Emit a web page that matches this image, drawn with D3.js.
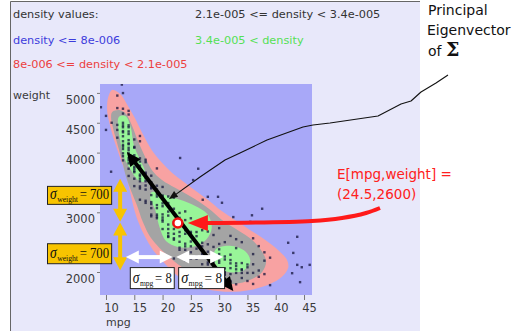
<!DOCTYPE html>
<html>
<head>
<meta charset="utf-8">
<script src="https://cdn.jsdelivr.net/npm/d3@7"></script>
<style>
  body { margin: 0; background: #fff; }
  svg { display: block; font-family: "DejaVu Sans", sans-serif; }
</style>
</head>
<body>
<svg id="chart" width="524" height="331"></svg>
<script>
const WIDTH = 524;
const HEIGHT = 331;
const plot = { left: 100, top: 84, right: 312, bottom: 295 };

// axis ticks (2500 and 3500 sit under the sigma boxes)
const xTicks = [10, 15, 20, 25, 30, 35, 40, 45];
const yTicks = [2000, 3000, 4000, 4500, 5000];

// legend
const legendLabels = [
  'density values:',
  '2.1e-005 <= density < 3.4e-005',
  'density <= 8e-006',
  '3.4e-005 < density',
  '8e-006 <= density < 2.1e-005',
];
const legendColors = ['#333', '#333', '#3c3cdc', '#55e055', '#ec4040'];

// density level outlines, [mpg, weight]
const densityLow = [
  [11.1, 5050], [12.5, 4980], [13.7, 4810], [15.1, 4580], [16.5, 4310], [18.1, 4040],
  [19.9, 3830], [21.7, 3660], [23.6, 3520], [25.7, 3370], [28.0, 3210], [30.2, 3040],
  [32.8, 2870], [35.5, 2700], [38.1, 2540], [40.4, 2370], [42.0, 2200], [42.2, 2070],
  [41.1, 1920], [39.0, 1800], [35.5, 1700], [31.9, 1670], [28.4, 1700], [24.8, 1800],
  [22.2, 1970], [20.1, 2170], [18.3, 2370], [16.9, 2590], [15.7, 2840], [14.8, 3120],
  [14.1, 3410], [13.4, 3680], [12.5, 3910], [11.6, 4160], [10.7, 4460], [10.2, 4710],
  [10.4, 4930],
];
const densityMid = [
  [11.1, 4680], [12.5, 4710], [13.5, 4650], [14.6, 4450], [15.7, 4180], [16.9, 3930],
  [18.1, 3710], [19.9, 3540], [22.2, 3410], [24.5, 3290], [26.6, 3170], [28.7, 3020],
  [30.9, 2840], [33.3, 2700], [35.8, 2540], [37.6, 2340], [38.3, 2170], [37.6, 2000],
  [35.5, 1870], [32.8, 1800], [30.2, 1820], [27.5, 1870], [24.8, 2000], [22.7, 2130],
  [21.0, 2270], [19.5, 2400], [17.8, 2590], [16.5, 2840], [15.5, 3110], [14.4, 3370],
  [13.5, 3610], [12.8, 3880], [11.9, 4180], [11.2, 4430], [10.9, 4580],
];
const densityHighTop = [
  [12.3, 4600], [13.5, 4610], [14.4, 4410], [14.9, 4130], [16.0, 3880], [16.9, 3680],
  [16.7, 3510], [15.7, 3540], [14.2, 3740], [13.0, 3960], [12.5, 4210], [12.1, 4460],
];
const densityHighMid = [
  [18.1, 3340], [20.4, 3290], [23.1, 3210], [25.7, 3110], [27.9, 2970], [28.7, 2740],
  [27.7, 2540], [25.2, 2420], [22.7, 2420], [20.6, 2520], [19.5, 2740], [18.7, 3040],
  [17.8, 3240],
];
const densityHighLow = [
  [29.3, 2370], [31.9, 2440], [34.7, 2340], [35.5, 2170], [34.4, 2030], [31.6, 2000],
  [29.4, 2120],
];

// cars, [mpg, weight]
const cars = [
  [9.1, 4760], [10, 4380], [10, 4615], [12.8, 5140], [10.9, 3680], [10.7, 3410],
  [23.1, 3910], [26.3, 3730], [25.4, 3540], [27.1, 3210], [28.0, 3260], [29.8, 3260],
  [30.5, 3160], [32.5, 2920], [35.8, 2950], [37.6, 3060], [35.5, 2840], [43.8, 2590],
  [42.2, 2490], [43.1, 2320], [43.8, 2120], [44.6, 2080], [46.0, 2120], [42.9, 1980],
  [44.3, 1830], [39.0, 1780],
  [12, 4955], [13, 4997], [12, 4746], [13, 4735], [11, 4500], [12, 4464], [13, 4654],
  [14, 4699], [13, 4499], [14, 4638], [13, 4457], [14, 4457], [12, 4380], [13, 4425],
  [14, 4425], [13, 4360], [14, 4354], [13, 4340], [14, 4312], [13, 4274], [12, 4250],
  [13, 4190], [14, 4209], [15, 4220], [13, 4129], [14, 4154], [15, 4096], [16, 4190],
  [14, 4141], [13, 4100], [14, 4080], [15, 4082], [13, 4060], [14, 4040], [16, 4278],
  [13, 3988], [14, 3988], [15, 3955], [13, 3940], [14, 3907], [15, 3892], [16, 3904],
  [17, 3880], [14, 3870], [13, 3870], [15, 3850], [16, 3850], [14, 3821], [15, 3761],
  [16, 3781], [17, 3840], [14, 3730], [15, 3730], [16, 3735],
  [15, 3693], [16, 3632], [17, 3645], [15, 3672], [18, 3613], [16, 3609], [17, 3664],
  [14, 3609], [15, 3563], [16, 3563], [17, 3570], [18, 3504], [19, 3735], [16, 3520],
  [17, 3520], [18, 3436], [19, 3445], [15, 3439], [16, 3433], [17, 3449], [18, 3410],
  [20, 3425], [19, 3381],
  [16, 3399], [17, 3381], [18, 3399], [19, 3302], [20, 3282], [21, 3265], [18, 3288],
  [17, 3193], [16, 3211], [19, 3264], [20, 3265], [22, 3245], [18, 3171], [20, 3150],
  [21, 3155], [19, 3121], [18, 3139], [20, 3102], [22, 3060], [24, 3015], [17, 3158],
  [19, 3070], [21, 3012], [18, 3070], [23, 2990], [20, 2965], [19, 2962], [18, 2962],
  [20, 2914], [19, 2930], [18, 2933], [21, 2945], [22, 2835], [23, 2906], [24, 2870],
  [20, 2875], [21, 2795], [22, 2795], [23, 2830], [25, 2900], [26, 2830], [20, 2845],
  [19, 2901], [21, 2720], [22, 2720], [24, 2700], [25, 2672], [27, 2790], [23, 2670],
  [26, 2670], [20, 2720], [21, 2648], [22, 2640], [24, 2640], [25, 2648], [26, 2600],
  [28, 2678], [27, 2700], [23, 2600], [21, 2600], [29, 2620], [30, 2735],
  [21, 2587], [22, 2565], [23, 2506], [24, 2474], [25, 2511], [26, 2489], [27, 2490],
  [22, 2542], [24, 2430], [25, 2430], [26, 2391], [27, 2430], [28, 2464], [23, 2408],
  [29, 2420], [30, 2380], [24, 2372], [23, 2372], [25, 2330], [27, 2300], [28, 2340],
  [31, 2500], [32, 2605], [33, 2550], [30, 2470], [32, 2290], [33, 2400], [34, 2500],
  [36, 2565], [37, 2434], [38, 2330],
  [22, 2226], [24, 2288], [25, 2234], [25, 2228], [26, 2265], [24, 2200], [26, 2223],
  [27, 2130], [28, 2125], [28, 2160], [29, 2171], [30, 2190], [30, 2155], [31, 2210],
  [32, 2145], [33, 2145], [34, 2045], [35, 2080], [35, 2125], [36, 2130], [37, 2025],
  [29, 2074], [30, 2065], [31, 2000], [32, 2065], [33, 2045], [34, 2035], [38, 2190],
  [27, 2050], [28, 2050], [30, 2045], [31, 2060], [33, 2100], [34, 2150], [32, 2200],
  [31, 2260], [29, 2280], [30, 2300], [36, 2300], [39, 2240],
  [26, 1950], [27, 1955], [28, 1937], [29, 1937], [30, 1985], [31, 1975], [32, 1965],
  [33, 1985], [34, 1985], [35, 1985], [36, 1985], [31, 1950], [32, 1850], [33, 1795],
  [36, 1800], [28, 1773], [31, 1773], [32, 1836], [30, 1875], [34, 1900], [37, 1920],
  [38, 1965], [29, 1850], [26, 1835], [35, 1850],
];

// annotations, [mpg, weight]
const meanPoint = [22.7, 2820];
const eigenArrow = [[13.7, 4010], [32.5, 1680]];
const eigenCalloutEnd = [21.1, 3220];
const sigmaWeightArrows = [[[12.5, 3560], [12.5, 2840]], [[12.5, 2830], [12.5, 2030]]];
const sigmaMpgArrows = [[[13.5, 2250], [21.8, 2250]], [[22.4, 2250], [30.7, 2250]]];
const sigmaWeight = 700;
const sigmaMpg = 8;

const svg = d3.select('#chart');

const x = d3.scaleLinear().domain([8.94, 46.41]).range([plot.left, plot.right]);
const y = d3.scaleLinear().domain([1615, 5149]).range([plot.bottom, plot.top]);

// outer panel
svg.append('rect').attr('width', WIDTH).attr('height', HEIGHT).attr('fill', '#fff');
svg.append('rect')
  .attr('x', 10).attr('y', 1).attr('width', 410).attr('height', 340)
  .attr('fill', '#e8e8fa');
svg.append('path')
  .attr('d', 'M10.5,331V1.5H420')
  .attr('fill', 'none').attr('stroke', '#666');

// legend
svg.append('g')
  .attr('font-size', 11.3)
  .selectAll('text')
  .data(legendLabels)
  .join('text')
  .attr('x', (d, i) => (i % 2 ? 195 : 13))
  .attr('y', (d, i) => [18, 44, 68][Math.floor(i / 2)])
  .attr('fill', (d, i) => legendColors[i])
  .text((d) => d);

// plot area
svg.append('defs').append('clipPath').attr('id', 'clip')
  .append('rect')
  .attr('x', plot.left).attr('y', plot.top)
  .attr('width', plot.right - plot.left).attr('height', plot.bottom - plot.top);

const area = svg.append('g').attr('clip-path', 'url(#clip)');
area.append('rect')
  .attr('x', plot.left).attr('y', plot.top)
  .attr('width', plot.right - plot.left).attr('height', plot.bottom - plot.top)
  .attr('fill', '#a8a8f8');

const outline = d3.line()
  .x((d) => x(d[0]))
  .y((d) => y(d[1]))
  .curve(d3.curveCatmullRomClosed.alpha(0.5));

area.append('path').attr('d', outline(densityLow)).attr('fill', '#f8a2a2');
area.append('path').attr('d', outline(densityMid)).attr('fill', '#a4a4a4');
[densityHighTop, densityHighMid, densityHighLow].forEach((poly) => {
  area.append('path').attr('d', outline(poly)).attr('fill', '#98f598');
});

area.append('g')
  .selectAll('rect')
  .data(cars)
  .join('rect')
  .attr('x', (d) => x(d[0]) - 1.2)
  .attr('y', (d) => y(d[1]) - 1.2)
  .attr('width', 2.4)
  .attr('height', 2.4)
  .attr('fill', '#14143c')
  .attr('fill-opacity', 0.75);

// axes
const yAxisG = svg.append('g')
  .attr('transform', `translate(${plot.left},0)`)
  .call(d3.axisLeft(y).tickValues(yTicks).tickSize(3).tickPadding(2).tickFormat(d3.format('d')));
const xAxisG = svg.append('g')
  .attr('transform', `translate(0,${plot.bottom})`)
  .call(d3.axisBottom(x).tickValues(xTicks).tickSize(5).tickPadding(4));
[yAxisG, xAxisG].forEach((g) => {
  g.attr('font-family', null).attr('font-size', 11.5);
  g.select('.domain').remove();
  g.selectAll('line').attr('stroke', '#777');
  g.selectAll('text').attr('fill', '#3a3a3a');
});
yAxisG.selectAll('text').attr('transform', 'translate(0,7)');
xAxisG.selectAll('text').attr('transform', 'translate(5,0)');

svg.append('text').attr('x', 13).attr('y', 99).attr('font-size', 11)
  .attr('fill', '#3a3a3a').text('weight');
svg.append('text').attr('x', 106).attr('y', 326).attr('font-size', 11)
  .attr('fill', '#3a3a3a').text('mpg');

// arrow helpers
function head(g, tip, from, len, halfW, color) {
  const dx = tip[0] - from[0];
  const dy = tip[1] - from[1];
  const n = Math.hypot(dx, dy);
  const ux = dx / n, uy = dy / n;
  const bx = tip[0] - ux * len, by = tip[1] - uy * len;
  g.append('path')
    .attr('d', `M${tip[0]},${tip[1]}L${bx - uy * halfW},${by + ux * halfW}L${bx + uy * halfW},${by - ux * halfW}Z`)
    .attr('fill', color);
}

function doubleArrow(g, p1, p2, color, width, len, halfW) {
  const dx = p2[0] - p1[0];
  const dy = p2[1] - p1[1];
  const n = Math.hypot(dx, dy);
  const ux = dx / n, uy = dy / n;
  g.append('line')
    .attr('x1', p1[0] + ux * (len - 2)).attr('y1', p1[1] + uy * (len - 2))
    .attr('x2', p2[0] - ux * (len - 2)).attr('y2', p2[1] - uy * (len - 2))
    .attr('stroke', color).attr('stroke-width', width);
  head(g, p1, p2, len, halfW, color);
  head(g, p2, p1, len, halfW, color);
}

const px = (d) => [x(d[0]), y(d[1])];
const notes = svg.append('g');

// eigenvector arrow
doubleArrow(notes, px(eigenArrow[0]), px(eigenArrow[1]), '#000', 4, 14, 6.5);

// mean point
const mean = px(meanPoint);
notes.append('circle')
  .attr('cx', mean[0]).attr('cy', mean[1]).attr('r', 4.5)
  .attr('fill', '#fff').attr('stroke', '#f01010').attr('stroke-width', 2.5);

// sigma weight arrows
sigmaWeightArrows.forEach((a) => doubleArrow(notes, px(a[0]), px(a[1]), '#f8c400', 4, 13, 7));
// sigma mpg arrows
sigmaMpgArrows.forEach((a) => doubleArrow(notes, px(a[0]), px(a[1]), '#fff', 4, 13, 6.5));

// callout from the label to the eigenvector (hand drawn, straight pieces)
const calloutEnd = px(eigenCalloutEnd);
const calloutPts = [
  [448, 75], [436, 83], [421, 92], [411, 101], [401, 104], [378, 116], [330, 123],
  [313, 125], [303, 127], [267, 140], [240, 153], [225, 160], [200, 177],
  [calloutEnd[0] + 6, calloutEnd[1] - 4],
];
notes.append('path')
  .attr('d', d3.line()(calloutPts))
  .attr('fill', 'none').attr('stroke', '#111').attr('stroke-width', 1.1)
  .attr('stroke-linejoin', 'round');
head(notes, calloutEnd, [200, 177], 9, 3.5, '#111');

// red arrow to the mean
const redTip = [mean[0] + 10, mean[1]];
const redPts = [[380, 208], [366, 213], [342, 218], [312, 221], [redTip[0] + 18, redTip[1]]];
notes.append('path')
  .attr('d', d3.line().curve(d3.curveCatmullRom)(redPts))
  .attr('fill', 'none').attr('stroke', '#ff1a1a').attr('stroke-width', 4);
head(notes, redTip, [redTip[0] + 30, redTip[1]], 20, 8, '#ff1a1a');

// sigma boxes: pieces placed one after the other, then squeezed to fit
function sigmaBox(bx, by, bw, bh, fill, sub, value) {
  const g = notes.append('g');
  g.append('rect')
    .attr('x', bx + 0.5).attr('y', by + 0.5).attr('width', bw).attr('height', bh)
    .attr('fill', fill).attr('stroke', '#222').attr('stroke-width', 1);
  const tg = g.append('g')
    .attr('font-family', '"Liberation Serif", serif')
    .attr('fill', '#111');
  const parts = [
    { text: 'σ', size: 16, style: 'italic', dy: 0, gap: 0.5 },
    { text: sub, size: 9, style: 'normal', dy: 3, gap: 2 },
    { text: `= ${value}`, size: 15, style: 'normal', dy: 0, gap: 0 },
  ];
  let cx = 0;
  parts.forEach((p) => {
    const t = tg.append('text')
      .attr('x', cx).attr('y', p.dy)
      .attr('font-size', p.size)
      .attr('font-style', p.style)
      .text(p.text);
    cx += t.node().getComputedTextLength() + p.gap;
  });
  const sx = Math.min(1, (bw - 5) / cx);
  tg.attr('transform', `translate(${bx + 3},${by + bh - 5}) scale(${sx},1)`);
}

const yx = x(sigmaWeightArrows[0][0][0]);
sigmaBox(47, y(sigmaWeightArrows[0][0][1]) + 7, yx - 9 - 47, 18, '#f8c400', 'weight', sigmaWeight);
sigmaBox(47, y(sigmaWeightArrows[1][1][1]) - 27, yx - 9 - 47, 20, '#f8c400', 'weight', sigmaWeight);

const wy = y(sigmaMpgArrows[0][0][1]) + 10;
sigmaMpgArrows.forEach((a, i) => {
  const x0 = x(a[0][0]) + (i ? 2 : 4);
  const x1 = x(a[1][0]) + 1;
  sigmaBox(x0, wy, x1 - x0, 21, '#fff', 'mpg', sigmaMpg);
});

// right-hand annotations
const side = svg.append('g').attr('font-size', 14).attr('fill', '#111');
side.append('text').attr('x', 428).attr('y', 15).text('Principal');
side.append('text').attr('x', 427).attr('y', 35).text('Eigenvector');
const ofT = side.append('text').attr('x', 428).attr('y', 56);
ofT.append('tspan').text('of ');
ofT.append('tspan')
  .attr('font-family', '"DejaVu Serif", serif')
  .attr('font-weight', 'bold')
  .attr('font-size', 19)
  .text('Σ');

const red = svg.append('g').attr('font-size', 13.5).attr('fill', '#ff2020');
red.append('text').attr('x', 337).attr('y', 179).text('E[mpg,weight] =');
red.append('text').attr('x', 337).attr('y', 199).text('(24.5,2600)');
</script>
</body>
</html>
